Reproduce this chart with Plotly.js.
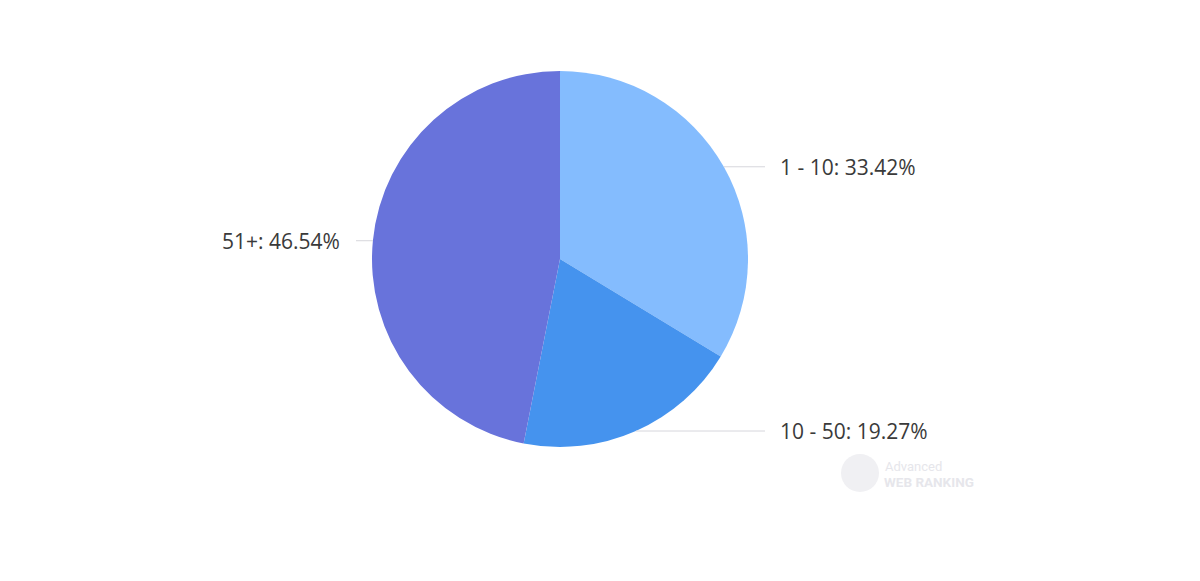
<!DOCTYPE html>
<html>
<head>
<meta charset="utf-8">
<script src="https://cdn.plot.ly/plotly-3.0.1.min.js"></script>
<style>html,body{margin:0;padding:0;background:#fff;}#chart{width:1200px;height:581px;}</style>
</head>
<body>
<div id="chart"></div>
<script>
const categories = ["1 - 10", "10 - 50", "51+"];
const shares = [33.42, 19.27, 46.54];
const sliceColors = ["#84BCFE", "#4593EE", "#6873DB"];

const W = 1200, H = 581;
const cx = 560, cy = 259, R = 188;
const rightLineEnd = 765, rightTextX = 778;
const leftLineEnd = 356, leftTextX = 342;

const total = shares.reduce((a, b) => a + b, 0);
const annotations = [];
const shapes = [];
let cum = 0;
shares.forEach((v, i) => {
  const mid = (cum + v / 2) / total * 2 * Math.PI;
  cum += v;
  const ex = cx + R * Math.sin(mid);
  const ey = cy - R * Math.cos(mid);
  const right = Math.sin(mid) >= 0;
  const lx = right ? rightLineEnd : leftLineEnd;
  shapes.push({
    type: "line", xref: "paper", yref: "paper",
    x0: ex / W, x1: lx / W, y0: 1 - ey / H, y1: 1 - ey / H,
    line: {color: "#d6d6dc", width: 1}
  });
  annotations.push({
    xref: "paper", yref: "paper",
    x: (right ? rightTextX : leftTextX) / W, y: 1 - ey / H,
    xanchor: right ? "left" : "right", yanchor: "middle",
    showarrow: false,
    text: categories[i] + ": " + shares[i].toFixed(2) + "%",
    font: {family: "Open Sans, sans-serif", size: 21, color: "#3a3a3a"}
  });
});

// watermark
annotations.push({
  xref: "paper", yref: "paper", x: 883 / W, y: 1 - 466 / H, xanchor: "left", yanchor: "middle",
  showarrow: false, text: "Advanced",
  font: {family: "Roboto, sans-serif", size: 13, color: "#e6e6eb"}
});
annotations.push({
  xref: "paper", yref: "paper", x: 882 / W, y: 1 - 482 / H, xanchor: "left", yanchor: "middle",
  showarrow: false, text: "<b>WEB RANKING</b>",
  font: {family: "Roboto, sans-serif", size: 13.5, color: "#e6e6eb"}
});
shapes.push({
  type: "circle", xref: "paper", yref: "paper",
  x0: 841 / W, x1: 879 / W, y0: 1 - 492 / H, y1: 1 - 454 / H,
  fillcolor: "#f0f0f3", line: {width: 0}
});

const data = [{
  type: "pie",
  labels: categories,
  values: shares,
  sort: false,
  direction: "clockwise",
  rotation: 0,
  marker: {colors: sliceColors, line: {width: 0}},
  textinfo: "none",
  hoverinfo: "label+percent",
  showlegend: false,
  domain: {x: [(cx - R) / W, (cx + R) / W], y: [1 - (cy + R) / H, 1 - (cy - R) / H]}
}];

const layout = {
  width: W, height: H,
  margin: {l: 0, r: 0, t: 0, b: 0},
  paper_bgcolor: "#ffffff",
  showlegend: false,
  annotations: annotations,
  shapes: shapes
};

Plotly.newPlot("chart", data, layout, {displayModeBar: false, staticPlot: true});
</script>
</body>
</html>
